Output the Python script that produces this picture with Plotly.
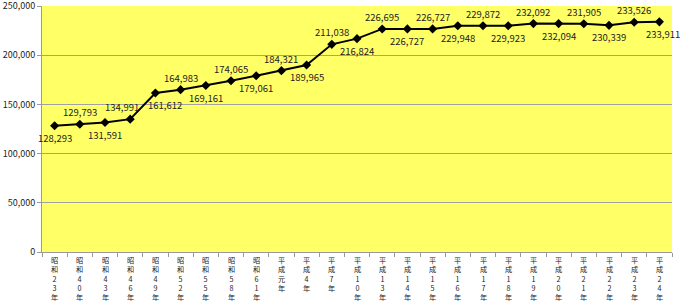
import plotly.graph_objects as go

categories = ["昭和23年", "昭和40年", "昭和43年", "昭和46年", "昭和49年", "昭和52年",
              "昭和55年", "昭和58年", "昭和61年", "平成元年", "平成4年", "平成7年",
              "平成10年", "平成13年", "平成14年", "平成15年", "平成16年", "平成17年",
              "平成18年", "平成19年", "平成20年", "平成21年", "平成22年", "平成23年",
              "平成24年"]
values = [128293, 129793, 131591, 134991, 161612, 164983, 169161, 174065, 179061,
          184321, 189965, 211038, 216824, 226695, 226727, 226727, 229948, 229872,
          229923, 232092, 232094, 231905, 230339, 233526, 233911]
y_ticks = [0, 50000, 100000, 150000, 200000, 250000]

font = "Noto Sans CJK JP"

fig = go.Figure()
fig.add_trace(go.Scatter(
    x=categories, y=values, mode="lines+markers",
    line=dict(color="black", width=2),
    marker=dict(symbol="diamond", size=7, color="black"),
    cliponaxis=False, showlegend=False,
))

annotations = []
# data labels: alternate below / above the points
for i, (cat, v) in enumerate(zip(categories, values)):
    dx = 0
    if i == 3:
        dx = -8
    elif i == 4:
        dx = 10
    elif i == len(values) - 1:
        dx = 4
    annotations.append(dict(
        x=cat, y=v, xref="x", yref="y", text=f"{v:,}", showarrow=False,
        xshift=dx, yshift=(-12 if i % 2 == 0 else 12), borderpad=0,
        font=dict(family=font, size=9.5, color="#222222"),
    ))

# vertical (top-to-bottom) category labels
for cat in categories:
    annotations.append(dict(
        x=cat, xref="x", y=0, yref="paper", yanchor="top", yshift=-2,
        text="<br>".join(list(cat)), showarrow=False, borderpad=0,
        font=dict(family=font, size=7.2, color="#222222"),
    ))

fig.update_layout(
    width=680, height=301,
    margin=dict(l=42, r=8, t=6, b=49),
    paper_bgcolor="white", plot_bgcolor="#FFFF66",
    font=dict(family=font, size=9.5, color="#222222"),
    annotations=annotations,
    xaxis=dict(
        type="category", categoryarray=categories,
        range=[-0.5, len(categories) - 0.5],
        tickson="boundaries", ticks="outside", ticklen=4, tickcolor="#999999",
        showline=True, linecolor="#999999", showgrid=False,
        showticklabels=False, automargin=False,
    ),
    yaxis=dict(
        range=[0, 250000], tickvals=y_ticks, tickformat=",",
        ticks="outside", ticklen=4, tickcolor="#999999",
        showline=True, linecolor="#999999",
        showgrid=True, gridcolor="#A0A0A0", gridwidth=1,
        zeroline=False, tickfont=dict(family=font, size=9, color="#222222"),
        ticklabeloverflow="allow", automargin=False,
    ),
)

fig.write_html("out.html")
